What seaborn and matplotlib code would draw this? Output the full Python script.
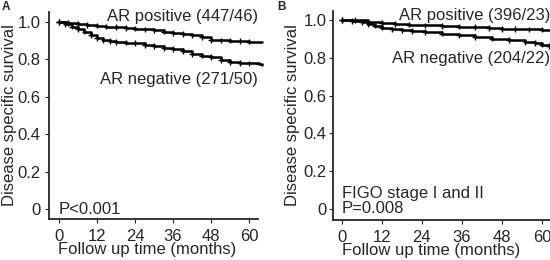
import numpy as np
import pandas as pd
import matplotlib
matplotlib.use('Agg')
import matplotlib.pyplot as plt
import seaborn as sns

sns.set_style('ticks')
plt.rcParams['font.family'] = ['Liberation Sans', 'DejaVu Sans']
plt.rc('font', size=12)
plt.rc('xtick', labelsize=12)
plt.rc('ytick', labelsize=12)
plt.rc('axes', labelsize=12)

# Panel A: all patients
a_pos_time = [0, 3, 6, 9, 12, 15, 18, 21, 24, 27, 30, 33, 36, 39, 42, 45, 48, 51, 54, 57, 60, 64]
a_pos_surv = [1.0, 0.995, 0.99, 0.985, 0.98, 0.975, 0.972, 0.968, 0.965, 0.96, 0.955, 0.948,
              0.942, 0.935, 0.928, 0.918, 0.905, 0.902, 0.9, 0.897, 0.895, 0.893]
a_neg_time = [0, 2, 4, 6, 8, 10, 12, 14, 16, 18, 21, 24, 27, 30, 33, 36, 39, 42, 45, 48,
              51, 54, 57, 60, 63, 64]
a_neg_surv = [1.0, 0.99, 0.975, 0.96, 0.948, 0.93, 0.915, 0.905, 0.898, 0.893, 0.89, 0.887,
              0.878, 0.87, 0.862, 0.855, 0.845, 0.83, 0.82, 0.812, 0.795, 0.785, 0.78, 0.778,
              0.775, 0.768]

# Panel B: FIGO stage I and II
b_pos_time = [0, 4, 8, 12, 16, 20, 25, 30, 35, 40, 44, 48, 52, 56, 60, 63]
b_pos_surv = [1.0, 1.0, 0.99, 0.984, 0.98, 0.976, 0.972, 0.968, 0.965, 0.962, 0.957, 0.953,
              0.951, 0.95, 0.949, 0.949]
b_neg_time = [0, 3, 6, 8, 10, 12, 15, 18, 21, 25, 30, 35, 40, 45, 50, 55, 58, 60, 62, 63]
b_neg_surv = [1.0, 0.995, 0.99, 0.98, 0.97, 0.96, 0.95, 0.945, 0.942, 0.937, 0.928, 0.919,
              0.91, 0.902, 0.893, 0.882, 0.878, 0.87, 0.862, 0.86]

x_ticks = [0, 12, 24, 36, 48, 60]
y_ticks = [0, 0.2, 0.4, 0.6, 0.8, 1.0]
y_tick_labels = ['0', '0.2', '0.4', '0.6', '0.8', '1.0']

panels = [
    dict(letter='A', pos=(a_pos_time, a_pos_surv), neg=(a_neg_time, a_neg_surv),
         pos_label='AR positive (447/46)', neg_label='AR negative (271/50)',
         notes=['P<0.001'], rect=[0.089, 0.158, 0.38, 0.796],
         xlim=(-3.16, 62.8), ylim=(-0.0535, 1.0535), neg_y=0.71,
         ylabelpad=0.5, ytickpad=3, xlabel_x=0.469),
    dict(letter='B', pos=(b_pos_time, b_pos_surv), neg=(b_neg_time, b_neg_surv),
         pos_label='AR positive (396/23)', neg_label='AR negative (204/22)',
         notes=['FIGO stage I and II', 'P=0.008'], rect=[0.605, 0.154, 0.395, 0.804],
         xlim=(-2.7, 62.4), ylim=(-0.058, 1.048), neg_y=0.81,
         ylabelpad=2.5, ytickpad=1.5, xlabel_x=0.452),
]

fig = plt.figure(figsize=(5.5, 2.6), dpi=100)

for p in panels:
    ax = fig.add_axes(p['rect'])
    df = pd.concat([
        pd.DataFrame({'time': p['pos'][0], 'surv': p['pos'][1], 'group': 'pos'}),
        pd.DataFrame({'time': p['neg'][0], 'surv': p['neg'][1], 'group': 'neg'}),
    ])
    sns.lineplot(data=df, x='time', y='surv', hue='group', palette=['black', 'black'],
                 drawstyle='steps-post', linewidth=1.8, legend=False, ax=ax,
                 estimator=None, sort=False)
    sns.scatterplot(data=df, x='time', y='surv', hue='group', palette=['black', 'black'],
                    marker='+', s=16, linewidth=1.0, legend=False, ax=ax)
    for l in ax.lines:
        l.set_clip_on(False)

    ax.set_xlim(*p['xlim'])
    ax.set_ylim(*p['ylim'])
    ax.set_xticks(x_ticks)
    ax.set_yticks(y_ticks)
    ax.set_yticklabels(y_tick_labels)
    ax.tick_params(length=3, width=0.8)
    ax.tick_params(axis='y', pad=p['ytickpad'])
    ax.tick_params(axis='x', pad=4)
    ax.set_xlabel('Follow up time (months)', labelpad=-1)
    ax.xaxis.label.set_x(p['xlabel_x'])
    ax.set_ylabel('Disease specific survival', labelpad=p['ylabelpad'])
    for s in ['left', 'bottom']:
        ax.spines[s].set_linewidth(1.3)
    sns.despine(ax=ax)

    ax.text(1.0, 1.015, p['pos_label'], transform=ax.transAxes, ha='right', va='top')
    ax.text(1.0, p['neg_y'], p['neg_label'], transform=ax.transAxes, ha='right', va='top')
    if len(p['notes']) == 1:
        ax.text(0, 0.025, p['notes'][0], transform=ax.get_xaxis_transform(),
                ha='left', va='baseline')
    else:
        ax.text(0, 0.105, p['notes'][0], transform=ax.get_xaxis_transform(),
                ha='left', va='baseline')
        ax.text(0, 0.033, p['notes'][1], transform=ax.get_xaxis_transform(),
                ha='left', va='baseline')

fig.text(0.004, 0.998, 'A', fontsize=8.5, fontweight='bold', va='top', ha='left')
fig.text(0.504, 0.998, 'B', fontsize=8.5, fontweight='bold', va='top', ha='left')

fig.savefig('out.png', dpi=100)
